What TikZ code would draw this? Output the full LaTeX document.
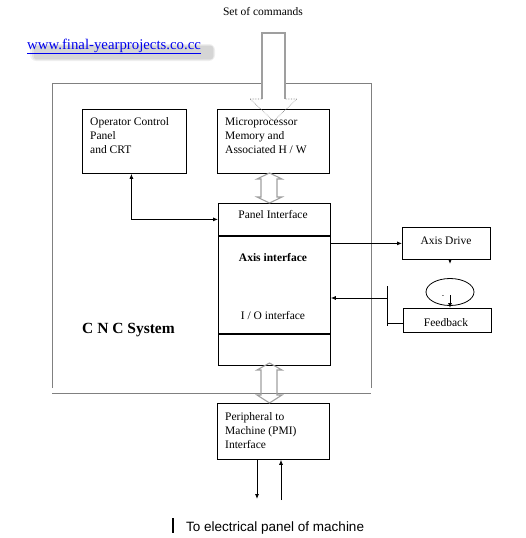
\documentclass[tikz,border=0pt]{standalone}
\usepackage{fontspec}
\setmainfont{Liberation Serif}
\newfontfamily\arialfont{Liberation Sans}
\usetikzlibrary{arrows.meta,shapes.geometric}

\definecolor{framegray}{RGB}{128,128,128}
\definecolor{linkblue}{RGB}{0,0,238}

\tikzset{
  unitbox/.style={draw, line width=0.8pt, inner sep=0pt, anchor=north west},
  boxtext/.style={inner sep=0pt, align=left, anchor=base west, font=\fontsize{11.5}{14}\selectfont},
  celltext/.style={inner sep=0pt, anchor=base, font=\fontsize{11.5}{14}\selectfont},
  weblink/.style={inner sep=0pt, anchor=base west, text=linkblue, font=\fontsize{14.8}{17}\selectfont},
  cncframe/.style={draw=framegray, line width=0.8pt},
  hollowarrow/.style={draw=gray!75, line width=1.1pt, line join=miter},
  hollowhead/.style={draw=gray, line width=0.6pt, densely dotted},
  loopshape/.style={draw, ellipse, line width=0.8pt, minimum width=48pt, minimum height=27pt, inner sep=0pt},
}

\begin{document}
\begin{tikzpicture}[x=1pt, y=-1pt, >={Latex[length=5pt,width=4pt]}]
\useasboundingbox (0,0) rectangle (525,538);

% top texts
\node[celltext] (cmds) at (263,15) {Set of commands};
\foreach \r in {2,4,6}
  \fill[black, opacity=0.06, rounded corners=\r pt] (36-\r,47-\r*0.5) rectangle (212+\r*0.5,58+\r*0.5);
\node[weblink] (web) at (27,49) {\underline{www.final-yearprojects.co.cc}};

% C N C system frame
\draw[cncframe] (52,388) -- (52,83) -- (371,83) -- (371,388);
\draw[cncframe] (52,393) -- (371,393);
\node[inner sep=0pt, anchor=base west, font=\fontsize{15.5}{18}\selectfont\bfseries] (cnc) at (82,333) {C N C System};

% units
\node[unitbox, minimum width=104pt, minimum height=64pt] (opcrt) at (82,109) {};
\node[boxtext] at (90,153) {Operator Control\\Panel\\and CRT};
\node[unitbox, minimum width=112pt, minimum height=64pt] (micro) at (217,109) {};
\node[boxtext] at (225,153) {Microprocessor\\Memory and\\Associated H / W};

\node[unitbox, minimum width=112pt, minimum height=32pt] (panelif) at (218,203) {};
\node[unitbox, minimum width=112pt, minimum height=97pt] (axisif) at (panelif.south west) {};
\node[unitbox, minimum width=112pt, minimum height=31pt] (spare) at (axisif.south west) {};
\node[celltext] at (273,218) {Panel Interface};
\node[celltext, font=\fontsize{11.5}{14}\selectfont\bfseries] at (273,261) {Axis interface};
\node[celltext] at (273,319) {I / O interface};

\node[unitbox, minimum width=88pt, minimum height=32pt] (axisdrive) at (402,227) {};
\node[celltext] at (446,244) {Axis Drive};
\node[loopshape] (loop) at (450,292) {};
\node[inner sep=0pt, font=\scriptsize] (minus) at (443,297) {-};
\node[unitbox, minimum width=88pt, minimum height=24pt] (feedback) at (403,308) {};
\node[celltext] at (446,326) {Feedback};

\node[unitbox, minimum width=112pt, minimum height=56pt] (pmi) at (217,403) {};
\node[boxtext] at (225,448) {Peripheral to\\Machine (PMI)\\Interface};

% hollow arrows
\fill[white] (262,33) rectangle (285,99);
\draw[hollowarrow] (262,99) -- (262,33) -- (285,33) -- (285,99);
\draw[hollowhead] (262,99) -- (250,99) -- (273.5,121) -- (297,99) -- (285,99);
\draw[hollowarrow] (269.5,173) -- (282,179) -- (277,179) -- (277,197) -- (282,197) -- (269.5,203)
  -- (257,197) -- (261,197) -- (261,179) -- (257,179) -- cycle;
\draw[hollowarrow] (269.5,363) -- (282,370) -- (277,370) -- (277,395) -- (282,395) -- (269.5,403)
  -- (257,395) -- (261,395) -- (261,370) -- (257,370) -- cycle;

% connectors
\draw[<->, line width=0.8pt] ([xshift=-3pt]opcrt.south) |- (panelif.west);
\draw[->, line width=0.8pt] (axisif.east |- axisdrive.west) -- (axisdrive.west);
\coordinate (drivetip) at (450,264);
\draw[->, line width=0.8pt] (drivetip |- axisdrive.south) -- (drivetip);
\draw[->, line width=0.8pt] ([yshift=-3pt]loop.center) -- (loop.center |- feedback.north);

\coordinate (bartop) at (387,286);
\coordinate (barbot) at (387,326);
\draw[line width=0.8pt] (bartop) -- (barbot);
\coordinate (fbback) at (387,298);
\draw[->, line width=0.8pt] (fbback) -- (fbback -| axisif.east);
\draw[line width=0.8pt] ([yshift=-3pt]feedback.west) -- ([yshift=-3pt]feedback.west -| bartop);

\coordinate (toelec) at (257,499);
\coordinate (fromelec) at (281,500);
\draw[->, line width=0.8pt] (toelec |- pmi.south) -- (toelec);
\draw[->, line width=0.8pt] (fromelec) -- (fromelec |- pmi.south);

% bottom label
\draw[line width=2pt] (173,518) -- (173,533);
\node[inner sep=0pt, anchor=base west, font=\arialfont\fontsize{13.5}{16}\selectfont] (elec) at (186,531) {To electrical panel of machine};
\end{tikzpicture}
\end{document}
